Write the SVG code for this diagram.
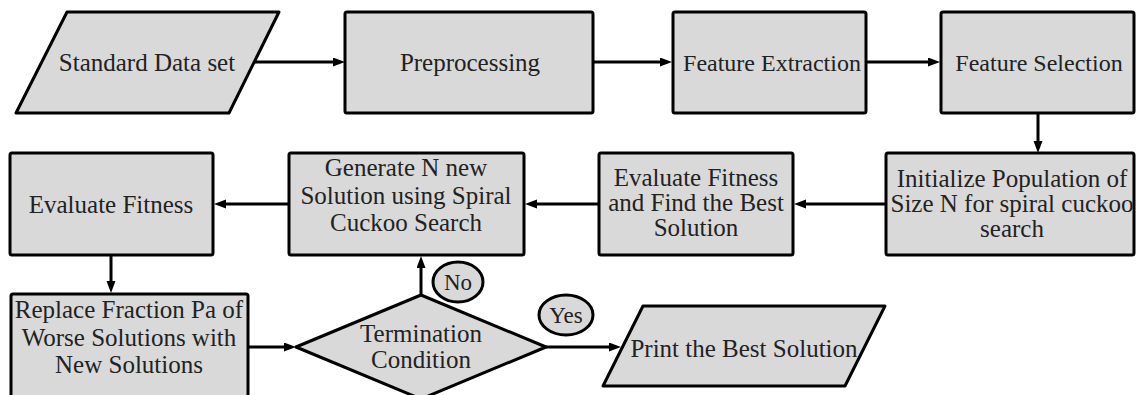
<svg xmlns="http://www.w3.org/2000/svg" width="1136" height="395" viewBox="0 0 1136 395">
<style>
.n{fill:#d9d9d9;stroke:#000;stroke-width:3;stroke-linejoin:round}
.t{font-family:"Liberation Serif",serif;font-size:25px;fill:#222;text-anchor:middle}
.s{font-size:23px}
.m{font-size:24px}
.c{stroke:#000;stroke-width:3;fill:none;marker-end:url(#a)}
</style>
<defs>
<marker id="a" markerUnits="userSpaceOnUse" markerWidth="14" markerHeight="10" refX="2" refY="4.5" orient="auto">
<path d="M0,0 L12,4.5 L0,9 z" fill="#000"/>
</marker>
</defs>
<g id="connectors">
<line class="c" x1="254" y1="62" x2="335" y2="62"/>
<line class="c" x1="593" y1="62" x2="662" y2="62"/>
<line class="c" x1="866" y1="62" x2="930" y2="62"/>
<line class="c" x1="1038" y1="113" x2="1038" y2="143"/>
<line class="c" x1="886" y1="204" x2="804" y2="204"/>
<line class="c" x1="599" y1="204" x2="535" y2="204"/>
<line class="c" x1="289" y1="204" x2="224" y2="204"/>
<line class="c" x1="111" y1="255" x2="111" y2="283"/>
<line class="c" x1="248" y1="347" x2="286" y2="347"/>
<line class="c" x1="421" y1="295" x2="421" y2="266"/>
<line class="c" x1="546" y1="347" x2="611" y2="347"/>
</g>
<g id="standard-data-set">
<polygon class="n" points="67,12 279,12 229,113 16,113"/>
<text class="t" x="147" y="71">Standard Data set</text>
</g>
<g id="preprocessing">
<rect class="n" x="345" y="12" width="248" height="101" rx="2"/>
<text class="t" x="470" y="71">Preprocessing</text>
</g>
<g id="feature-extraction">
<rect class="n" x="673" y="12" width="193" height="101" rx="2"/>
<text class="t m" x="772" y="71">Feature Extraction</text>
</g>
<g id="feature-selection">
<rect class="n" x="941" y="12" width="193" height="101" rx="2"/>
<text class="t m" x="1039" y="71">Feature Selection</text>
</g>
<g id="initialize">
<rect class="n" x="886" y="153" width="248" height="102" rx="2"/>
<text class="t" x="1012" y="187">Initialize Population of</text>
<text class="t" x="1012" y="212">Size N for spiral cuckoo</text>
<text class="t" x="1012" y="237">search</text>
</g>
<g id="evaluate-find">
<rect class="n" x="599" y="153" width="194" height="102" rx="2"/>
<text class="t" x="696" y="186">Evaluate Fitness</text>
<text class="t" x="696" y="211">and Find the Best</text>
<text class="t" x="696" y="236">Solution</text>
</g>
<g id="generate">
<rect class="n" x="289" y="153" width="235" height="102" rx="2"/>
<text class="t" x="406" y="176">Generate N new</text>
<text class="t" x="406" y="204">Solution using Spiral</text>
<text class="t" x="406" y="231">Cuckoo Search</text>
</g>
<g id="evaluate-fitness">
<rect class="n" x="10" y="153" width="203" height="102" rx="2"/>
<text class="t" x="111" y="213">Evaluate Fitness</text>
</g>
<g id="replace">
<rect class="n" x="11" y="294" width="237" height="110" rx="2"/>
<text class="t" x="129" y="318">Replace Fraction Pa of</text>
<text class="t" x="129" y="346">Worse Solutions with</text>
<text class="t" x="129" y="373">New Solutions</text>
</g>
<g id="termination">
<polygon class="n" points="296,347 421,295 546,347 421,399"/>
<text class="t" x="421" y="342">Termination</text>
<text class="t" x="421" y="368">Condition</text>
</g>
<g id="no-label">
<ellipse class="n" cx="458" cy="282" rx="25" ry="20"/>
<text class="t s" x="458" y="290">No</text>
</g>
<g id="yes-label">
<ellipse class="n" cx="566" cy="315" rx="27" ry="20"/>
<text class="t s" x="566" y="323">Yes</text>
</g>
<g id="print">
<polygon class="n" points="643,306 885,306 845,386 603,386"/>
<text class="t" x="744" y="357">Print the Best Solution</text>
</g>
</svg>
